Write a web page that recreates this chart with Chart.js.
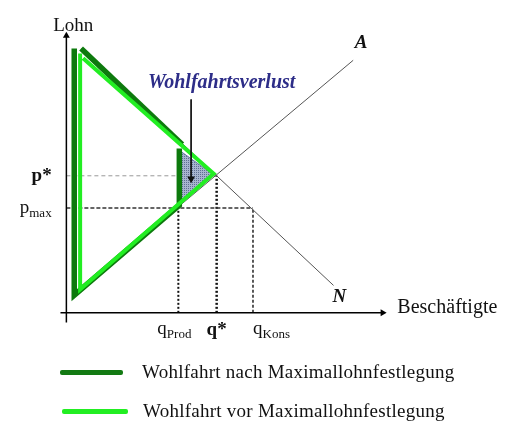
<!DOCTYPE html>
<html>
<head>
<meta charset="utf-8">
<script src="https://cdn.jsdelivr.net/npm/chart.js@4"></script>
<style>
body { margin: 0; background: #fff; }
#wrap { position: relative; width: 505px; height: 425px; }
#wrap canvas { position: absolute; left: 0; top: 0; }
.legRow { position: absolute; left: 0; width: 505px; height: 30px; font-family: "Liberation Serif", serif; font-size: 19px; letter-spacing: 0.25px; color: #111; }
.legRow .ln { position: absolute; height: 5px; border-radius: 2px; }
.legRow .tx { position: absolute; top: 0; line-height: 30px; white-space: nowrap; }
</style>
</head>
<body>
<div id="wrap">
  <canvas id="myChart" width="505" height="425"></canvas>
  <div class="legRow" style="top:357px">
    <div class="ln" style="left:60px;width:63px;top:13px;background:#137a13"></div>
    <div class="tx" style="left:142px">Wohlfahrt nach Maximallohnfestlegung</div>
  </div>
  <div class="legRow" style="top:396px">
    <div class="ln" style="left:62px;width:66px;top:13px;background:#22ee22"></div>
    <div class="tx" style="left:143px">Wohlfahrt vor Maximallohnfestlegung</div>
  </div>
</div>
<script>
// market lines
const demandX = [15, 272]
const demandY = [270, 28]
const supplyX = [9, 292]
const supplyY = [20, 258]

// welfare areas
const afterX = [8, 8, 115, 115]
const afterY = [270, 18, 110, 168]
const afterTopX = [15, 118]
const afterTopY = [270, 172]
const beforeX = [14, 14, 150, 17]
const beforeY = [265, 24, 142, 260]
const lossX = [115, 115, 150, 115]
const lossY = [166, 111, 141, 166]

// levels
const pStar = 140
const pMax = 107
const qProd = 114
const qStar = 153
const qKons = 190

const pts = (xs, ys) => xs.map((x, i) => ({ x: x, y: ys[i] }))

// dotted fill for the loss triangle
const patCanvas = document.createElement("canvas")
patCanvas.width = 2
patCanvas.height = 2
const pc = patCanvas.getContext("2d")
pc.fillStyle = "#a8b5cf"
pc.fillRect(0, 0, 2, 2)
pc.fillStyle = "#5f6e92"
pc.fillRect(0, 0, 1, 1)
const lossPattern = pc.createPattern(patCanvas, "repeat")

const textPlugin = {
    id: "texts",
    afterDatasetsDraw(chart) {
        const ctx = chart.ctx
        const sx = chart.scales.x
        const sy = chart.scales.y
        const px = v => sx.getPixelForValue(v)
        const py = v => sy.getPixelForValue(v)
        const serif = '"Liberation Serif", serif'

        const put = (txt, x, y, font, align, color) => {
            ctx.font = font
            ctx.textAlign = align || "left"
            ctx.textBaseline = "middle"
            ctx.fillStyle = color || "#111"
            ctx.fillText(txt, x, y)
        }
        const withSub = (main, sub, x, y, align) => {
            ctx.font = "19px " + serif
            const w1 = ctx.measureText(main).width
            ctx.font = "13px " + serif
            const w2 = ctx.measureText(sub).width
            let left = x
            if (align === "right") left = x - w1 - w2
            put(main, left, y, "19px " + serif)
            put(sub, left + w1, y + 5, "13px " + serif)
        }

        ctx.save()
        put("Lohn", px(7), py(293), "19px " + serif, "center")
        put("Beschäftigte", px(337), py(5), "20px " + serif)
        put("A", px(300), py(276), "bold italic 19px " + serif, "center")
        put("N", px(278), py(16), "bold italic 19px " + serif, "center")
        put("p*", px(-15), py(pStar), "bold 19px " + serif, "right")
        withSub("p", "max", px(-15), py(pMax), "right")
        withSub("q", "Prod", px(qProd) - 21, py(-17))
        put("q*", px(qStar), py(-18), "bold 19px " + serif, "center")
        withSub("q", "Kons", px(qKons), py(-17))
        put("Wohlfahrtsverlust", px(83), py(235), "bold italic 20px " + serif, "left", "#2d2d88")
        ctx.restore()
    }
}

const lineSet = (data, color, width, dash, order) => ({
    data: data,
    borderColor: color,
    borderWidth: width,
    borderDash: dash || [],
    pointRadius: 0,
    fill: false,
    tension: 0,
    order: order
})

const datasets = [
    lineSet(pts([0, 0], [-10, 283]), "#000", 1.5, null, 1),
    lineSet(pts([-6, 322], [0, 0]), "#000", 1.5, null, 1),
    lineSet(pts([0, qStar], [pStar, pStar]), "#999", 1, [4, 3], 6),
    lineSet(pts([0, qKons], [pMax, pMax]), "#333", 1.5, [4, 2], 6),
    lineSet(pts([qProd, qProd], [0, pMax]), "#111", 2, [2, 2], 6),
    lineSet(pts([qStar, qStar], [0, pStar]), "#111", 2.5, [2, 2], 6),
    lineSet(pts([qKons, qKons], [0, pMax]), "#222", 1.5, [3, 2], 6),
    lineSet(pts(demandX, demandY), "#555", 1, null, 5),
    lineSet(pts(supplyX, supplyY), "#555", 1, null, 5),
    {
        data: pts(lossX, lossY),
        borderColor: "#6677a0",
        borderWidth: 1,
        backgroundColor: lossPattern,
        fill: "shape",
        pointRadius: 0,
        tension: 0,
        order: 4
    },
    lineSet(pts(afterX, afterY), "#0d7a0d", 5.5, null, 3),
    lineSet(pts(afterTopX, afterTopY), "#0d7a0d", 5.5, null, 3),
    lineSet(pts(beforeX, beforeY), "#22ee22", 4, null, 2),
    lineSet(pts([127, 127], [218, 137]), "#111", 1, null, 0)
]

// arrow heads
datasets[0].pointRadius = [0, 4]
datasets[0].pointStyle = "triangle"
datasets[0].pointBackgroundColor = "#000"
datasets[0].pointBorderWidth = 0
datasets[1].pointRadius = [0, 4]
datasets[1].pointStyle = "triangle"
datasets[1].rotation = 90
datasets[1].pointBackgroundColor = "#000"
datasets[1].pointBorderWidth = 0
datasets[13].pointRadius = [0, 4.5]
datasets[13].pointStyle = "triangle"
datasets[13].rotation = 180
datasets[13].pointBackgroundColor = "#111"
datasets[13].pointBorderWidth = 0

const myChart = new Chart(document.getElementById("myChart"), {
    type: "line",
    data: { datasets: datasets },
    options: {
        responsive: false,
        animation: false,
        layout: { padding: 0 },
        plugins: { legend: { display: false }, tooltip: { enabled: false } },
        scales: {
            x: { type: "linear", min: -63, max: 442, display: false },
            y: { type: "linear", min: -110, max: 315, display: false }
        }
    },
    plugins: [textPlugin]
})
</script>
</body>
</html>
